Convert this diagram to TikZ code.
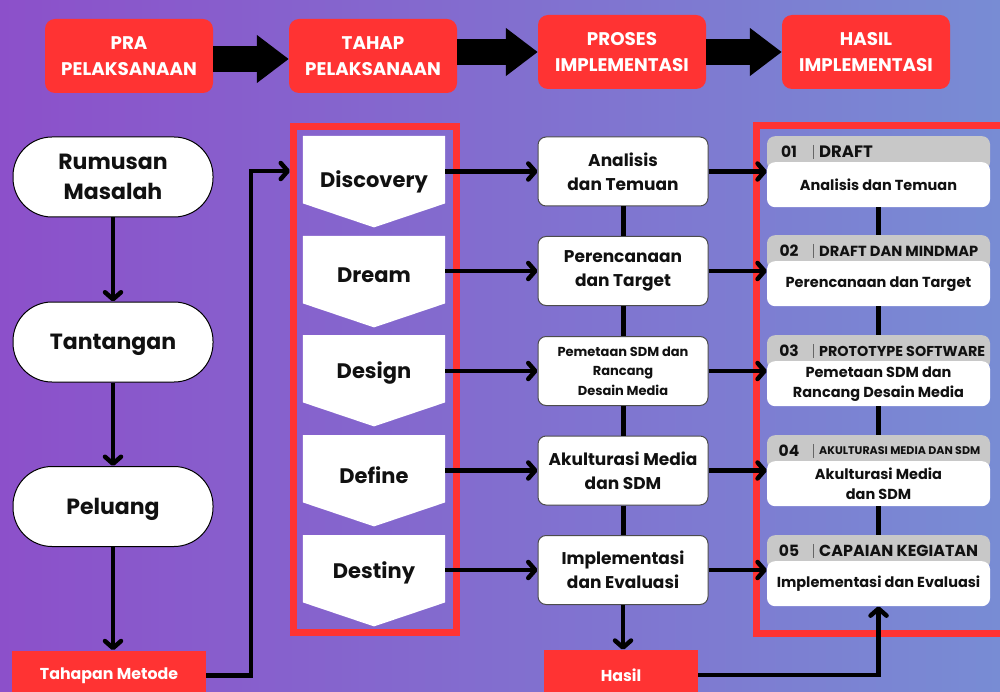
\documentclass[tikz,border=0pt]{standalone}
\usepackage{fontspec}
\setmainfont{Poppins}
\usepackage{graphicx}
\usetikzlibrary{arrows.meta,calc}
\definecolor{bgL}{RGB}{140,80,202}
\definecolor{bgM}{RGB}{130,108,200}
\definecolor{bgR}{RGB}{120,140,212}
\definecolor{redbox}{RGB}{255,51,51}
\definecolor{cardgray}{RGB}{200,200,200}
\definecolor{txt}{RGB}{17,17,17}
\newcommand\fsz[2]{\fontsize{#1}{#2}\selectfont}
\begin{document}
\begin{tikzpicture}[x=1pt,y=-1pt,
  hdr/.style={fill=redbox, rounded corners=10pt, minimum width=168pt, minimum height=74pt, text=white, align=center, font=\fsz{18.3}{26}\bfseries, inner sep=0pt},
  blockarrow/.style={line width=26pt, -{Triangle[length=32pt,width=46pt]}},
  stad/.style={draw=black, line width=1pt, fill=white, rounded corners=39pt, minimum width=200pt, minimum height=80pt, align=center, font=\fsz{22}{30}\bfseries, text=txt, inner sep=0pt},
  mbox/.style={draw=black!70, line width=1pt, fill=white, rounded corners=8pt, minimum width=170pt, minimum height=69pt, align=center, font=\fsz{17}{24}\bfseries, text=txt, inner sep=0pt},
  redlabel/.style={fill=redbox, inner sep=0pt, text=white, font=\fsz{15.8}{18}\bfseries},
  arr/.style={line width=4.5pt, -{Straight Barb[length=7pt,width=16pt,round]}},
  conn/.style={line width=5pt},
  chevtext/.style={font=\fsz{21}{26}\bfseries, text=txt},
  cardhead/.style={fill=cardgray, rounded corners=8pt, minimum width=223pt, minimum height=34pt, anchor=north, inner sep=0pt},
  cardbody/.style={fill=white, rounded corners=8pt, minimum width=223pt, minimum height=45pt, anchor=north, inner sep=0pt, align=center, font=\fsz{14.5}{20}\bfseries, text=txt},
]
\useasboundingbox (0,0) rectangle (1000,692);
\shade[left color=bgL, middle color=bgM, right color=bgR] (0,0) rectangle (1000,692);

% header
\node[hdr] (h1) at (129,56) {PRA\\PELAKSANAAN};
\node[hdr] (h2) at (373,56) {TAHAP\\PELAKSANAAN};
\node[hdr] (h3) at (622,52) {PROSES\\IMPLEMENTASI};
\node[hdr] (h4) at (866,52) {HASIL\\IMPLEMENTASI};
\draw[blockarrow] ([yshift=-3pt]h1.east) -- ([yshift=-3pt]h2.west);
\draw[blockarrow] (h2.east |- h3.west) -- (h3.west);
\draw[blockarrow] (h3.east) -- (h4.west);

% frames
\node[draw=redbox, line width=7pt, minimum width=163pt, minimum height=506pt, inner sep=0pt] (frame) at (375,379.5) {};
\draw[redbox, line width=7pt] (1010,125.5) -- (756.5,125.5) -- (756.5,633.5) -- (1010,633.5);

% left column
\node[stad] (r) at (113,177) {Rumusan\\Masalah};
\node[stad] (t) at (113,342) {\raisebox{0pt}[\height][0pt]{Tantangan}};
\node[stad] (p) at (113,506.5) {\raisebox{0pt}[\height][0pt]{Peluang}};
\node[redlabel, minimum width=194pt, minimum height=50pt] (tm) at (109,675.5) {Tahapan Metode};

% chevrons
\foreach \y/\n/\w/\s in {136/1/Discovery/-12,236/2/Dream/-6,335/3/Design/-4,435/4/Define/-6,535/5/Destiny/-4}{
  \node[minimum width=142pt, minimum height=67pt, inner sep=0pt, anchor=north] (c\n) at (374,\y) {};
  \fill[white] (c\n.north west) -- (c\n.north east) -- (c\n.south east) -- ([yshift=-24pt]c\n.south) -- (c\n.south west) -- cycle;
  \node[chevtext] (t\n) at ([yshift=\s pt]c\n.center) {\w};
}

% middle boxes
\node[mbox] (m1) at (623,171.5) {Analisis\\dan Temuan};
\node[mbox] (m2) at (623,271) {Perencanaan\\dan Target};
\node[mbox, font=\fsz{13}{19.5}\bfseries] (m3) at (623,371) {Pemetaan SDM dan\\Rancang\\Desain Media};
\node[mbox] (m4) at (623,470.5) {Akulturasi Media\\dan SDM};
\node[mbox] (m5) at (623,570) {Implementasi\\dan Evaluasi};
\node[redlabel, minimum width=154pt, minimum height=50pt] (hasil) at (621,675) {Hasil};

% cards
\newcommand\card[4]{%
  \node[cardhead] (g#1) at (878.5,#2) {};
  \node[cardbody] (b#1) at (878.5,#2+26) {#4};
  \node[font=\fsz{15.5}{15}\bfseries, text=txt, inner sep=0pt] (n#1) at (789,#2+16) {0#1};
  \draw[black!60, line width=0.8pt] (813,#2+9) -- (813,#2+23);
  \node[anchor=west, inner sep=0pt, text=txt, font=\bfseries] (k#1) at (819,#2+16) {#3};
}
\card{1}{136}{\fsz{16.5}{16}DRAFT}{Analisis dan Temuan}
\card{2}{235}{\resizebox{159pt}{!}{DRAFT DAN MINDMAP}}{Perencanaan dan Target}
\card{3}{335}{\resizebox{166pt}{!}{PROTOTYPE SOFTWARE}}{Pemetaan SDM dan\\Rancang Desain Media}
\card{4}{435}{\resizebox{161pt}{!}{AKULTURASI MEDIA DAN SDM}}{Akulturasi Media\\dan SDM}
\card{5}{535}{\resizebox{159pt}{!}{CAPAIAN KEGIATAN}}{Implementasi dan Evaluasi}

% connectors left
\draw[arr] (r.south) -- (t.north);
\draw[arr] (t.south) -- (p.north);
\draw[arr] (p.south) -- (p.south |- tm.north);
\coordinate (turn) at (251,171);
\draw[arr] (tm.east) -| (turn) -- (turn -| frame.west);

% chevrons to middle, middle to cards
\foreach \n in {1,...,5}{
  \draw[arr] (c\n.east |- m\n.west) -- (m\n.west);
  \draw[arr] (m\n.east) -- (m\n.east -| b\n.west);
}
\draw[conn] (m1.south) -- (m2.north);
\draw[conn] (m2.south) -- (m3.north);
\draw[conn] (m3.south) -- (m4.north);
\draw[conn] (m4.south) -- (m5.north);
\draw[conn] (b1.south) -- (g2.north);
\draw[conn] (b2.south) -- (g3.north);
\draw[conn] (b3.south) -- (g4.north);
\draw[conn] (b4.south) -- (g5.north);
\draw[arr] (m5.south) -- (m5.south |- hasil.north);
\draw[arr] (hasil.east) -| (b5.south);
\end{tikzpicture}
\end{document}
